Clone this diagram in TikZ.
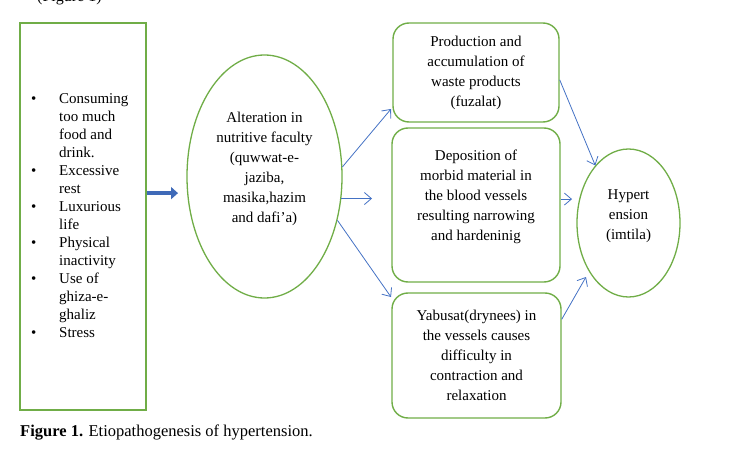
\documentclass[tikz,border=0pt]{standalone}
\usepackage{fontspec}
\setmainfont{Liberation Serif}
\usetikzlibrary{arrows.meta, shapes.geometric}
\definecolor{wgreen}{HTML}{70AD47}
\definecolor{wblue}{HTML}{4472C4}
\definecolor{wnavy}{HTML}{3F6AB8}
\tikzset{
  bx/.style={draw=wgreen, line width=1.4pt, rounded corners=16pt, inner sep=0pt},
  ov/.style={draw=wgreen, line width=1.3pt, ellipse, inner sep=0pt},
  tx/.style={font=\fontsize{15}{20}\selectfont, align=center, inner sep=0pt},
  flow/.style={wblue, line width=0.8pt, -{Straight Barb[length=7pt,width=12pt]}},
  fat/.style={wnavy, line width=4.5pt, -{Triangle[length=7pt,width=12pt]}}
}
\begin{document}
\begin{tikzpicture}[x=1pt,y=-1pt]
  \useasboundingbox (0,0) rectangle (737,452);
  \node[font=\fontsize{16}{18}\selectfont, anchor=base west, inner sep=0pt] (topnote) at (37,2) {(Figure 1)};
  % causes
  \node[draw=wgreen, line width=2.4pt, minimum width=126pt, minimum height=387pt, inner sep=0pt] (causes) at (83,216.5) {};
  \node[font=\fontsize{15}{18}\selectfont, anchor=west, inner sep=0pt] (list) at (31,217) {\begin{tabular}{@{}p{28pt}@{}l@{}}
    \textbullet & Consuming\\ & too much\\ & food and\\ & drink.\\
    \textbullet & Excessive\\ & rest\\ \textbullet & Luxurious\\ & life\\
    \textbullet & Physical\\ & inactivity\\ \textbullet & Use of\\ & ghiza-e-\\ & ghaliz\\
    \textbullet & Stress\end{tabular}};
  % shapes
  \node[ov, minimum width=155pt, minimum height=243pt] (alt) at (264.5,176.5) {};
  \node[tx] (altT) at ([yshift=8pt]alt.center) {Alteration in\\nutritive faculty\\(quwwat-e-\\jaziba,\\masika,hazim\\and dafi'a)};
  \node[bx, minimum width=166pt, minimum height=99pt] (prod) at (476,72.5) {};
  \node[tx] (prodT) at (prod.center) {Production and\\accumulation of\\waste products\\(fuzalat)};
  \node[bx, minimum width=168pt, minimum height=154pt] (dep) at (476,205) {};
  \node[tx] (depT) at ([yshift=8pt]dep.center) {Deposition of\\morbid material in\\the blood vessels\\resulting narrowing\\and hardeninig};
  \node[bx, minimum width=169pt, minimum height=125pt] (yab) at (476.5,355.5) {};
  \node[tx] (yabT) at (yab.center) {Yabusat(drynees) in\\the vessels causes\\difficulty in\\contraction and\\relaxation};
  \node[ov, minimum width=103pt, minimum height=148pt] (hyp) at (628.5,223) {};
  \node[tx] (hypT) at ([yshift=6.5pt]hyp.center) {Hypert\\ension\\(imtila)};
  % arrows
  \coordinate (tipA) at (178,193);\coordinate (tipB) at (372,199);\coordinate (tipC) at (391,297);
  \coordinate (tipH) at (572,199);\coordinate (tipD) at (586,277);\coordinate (tipP) at (391,109);
  \draw[fat] (causes.20.5) -- (causes.20.5 -| tipA);
  \draw[flow] (alt.7) -- (tipP);
  \draw[flow] (alt.-16) -- (alt.-16 -| tipB);
  \draw[flow] (alt.-31) -- (tipC);
  \draw[flow] (prod.-5) -- (hyp.120);
  \draw[flow] (dep.4) -- (dep.4 -| tipH);
  \draw[flow] (yab.23) -- (tipD);
  \node[font=\fontsize{16.5}{18}\selectfont, anchor=base west, inner sep=0pt] (caption) at (20,436) {\textbf{Figure 1.} Etiopathogenesis of hypertension.};
\end{tikzpicture}
\end{document}
